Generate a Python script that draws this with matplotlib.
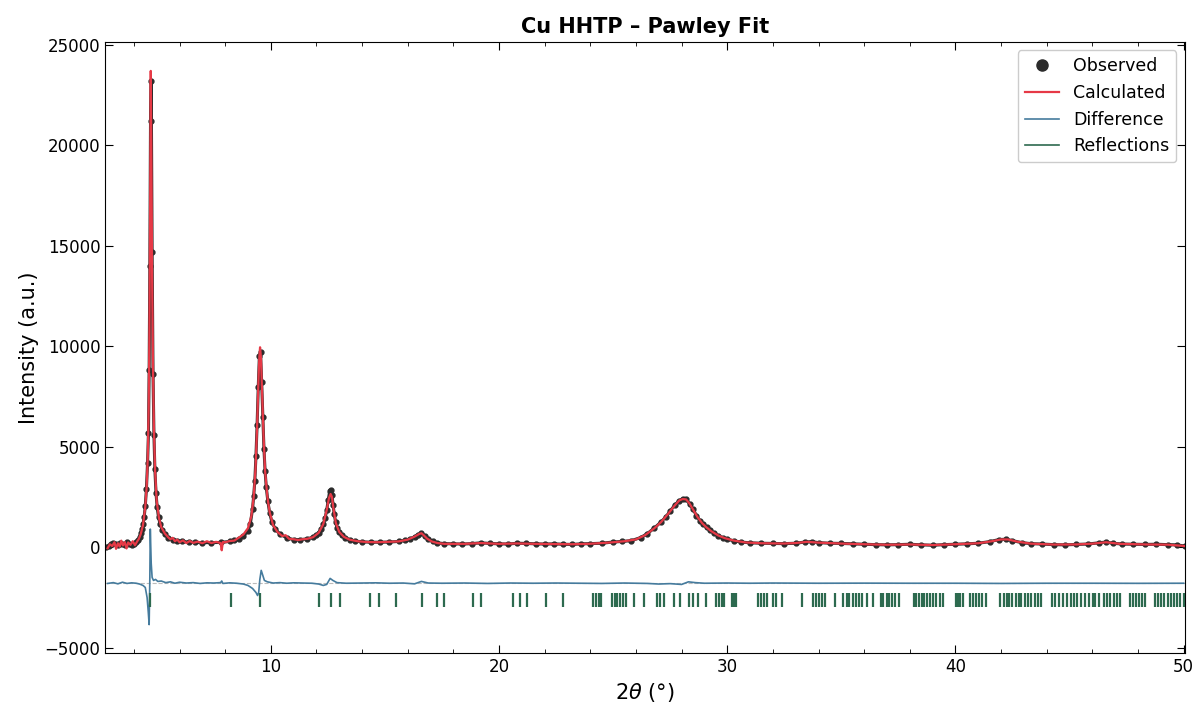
import numpy as np
import matplotlib
matplotlib.use("Agg")
import matplotlib.pyplot as plt
from matplotlib.ticker import MultipleLocator
from matplotlib.lines import Line2D

# observed pattern (2theta, intensity)
obs_x = [2.80, 2.90, 3.00, 3.10, 3.20, 3.30, 3.40, 3.50, 3.60, 3.70, 3.80, 3.90, 4.00, 4.10, 4.20, 4.25,
         4.30, 4.35, 4.40, 4.45, 4.50, 4.55, 4.60, 4.64, 4.67, 4.70, 4.73, 4.76, 4.80, 4.84, 4.88, 4.92, 4.97,
         5.02, 5.08, 5.15, 5.25, 5.35, 5.5, 5.7, 5.9, 6.1, 6.4, 6.7, 7.0, 7.4, 7.8, 8.2, 8.4, 8.6, 8.8,
         9.0, 9.10, 9.20, 9.25, 9.30, 9.35, 9.40, 9.45, 9.50, 9.55, 9.60, 9.65, 9.70, 9.75, 9.80, 9.87,
         9.95, 10.05, 10.2, 10.4, 10.7, 11.0, 11.3, 11.6, 11.85, 12.0, 12.1, 12.2, 12.3,
         12.38, 12.45, 12.52, 12.58, 12.63, 12.68, 12.73, 12.78, 12.84, 12.9, 12.98, 13.1, 13.25, 13.45, 13.7,
         14.0, 14.4, 14.8, 15.2, 15.6, 15.9, 16.1, 16.3, 16.45, 16.6, 16.75, 16.9, 17.1, 17.3, 17.6, 18.0, 18.4,
         18.8, 19.2, 19.6, 20.0, 20.4, 20.8, 21.2, 21.6, 22.0, 22.4, 22.8, 23.2, 23.6, 24.0, 24.5, 25.0, 25.4,
         25.8, 26.2, 26.5, 26.8, 27.1, 27.3, 27.5, 27.7, 27.9, 28.05, 28.2, 28.35, 28.5, 28.65, 28.8, 28.95,
         29.1, 29.25, 29.4, 29.6, 29.8, 30.0, 30.3, 30.6, 31.0, 31.5, 32.0, 32.5, 33.0, 33.4, 33.7, 34.0, 34.5,
         35.0, 35.5, 36.0, 36.5, 37.0, 37.5, 38.0, 38.5, 39.0, 39.5, 40.0, 40.5, 41.0, 41.5, 41.9, 42.2, 42.5,
         42.9, 43.3, 43.8, 44.3, 44.8, 45.3, 45.8, 46.3, 46.6, 46.9, 47.3, 47.8, 48.3, 48.8, 49.3, 49.7, 50.05]
obs_y = [0, 60, 140, 200, 170, 90, 230, 170, 120, 260, 180, 120, 180, 260, 380, 500,
         700, 900, 1150, 1500, 2050, 2900, 4200, 5700, 8800, 14000, 21200, 23200, 14700, 8600, 5600, 3900, 2700,
         2000, 1500, 1150, 850, 650, 480, 380, 320, 290, 260, 240, 230, 230, 240, 290, 340, 420, 560,
         800, 1150, 1900, 2550, 3300, 4550, 6100, 7950, 9500, 9700, 8200, 6500, 4900, 3800, 3000, 2300,
         1700, 1250, 900, 650, 470, 380, 380, 420, 500, 600, 720, 900, 1150,
         1450, 1850, 2350, 2800, 2850, 2600, 2100, 1650, 1250, 980, 780, 600, 480, 380, 310,
         270, 250, 250, 260, 290, 350, 420, 520, 620, 700, 580, 420, 300, 220, 180, 170, 160,
         180, 220, 190, 170, 160, 200, 190, 170, 160, 170, 150, 140, 170, 180, 200, 260, 290,
         330, 480, 680, 950, 1260, 1500, 1800, 2100, 2320, 2420, 2400, 2150, 1900, 1580, 1330, 1150,
         1000, 850, 720, 580, 480, 400, 320, 260, 220, 200, 190, 180, 200, 260, 280, 230, 200,
         190, 170, 150, 130, 120, 130, 150, 120, 100, 130, 150, 170, 200, 280, 380, 400, 330,
         230, 180, 160, 130, 120, 140, 160, 220, 260, 200, 160, 150, 140, 150, 130, 120, 60]

# calculated (Pawley) profile
calc_x = [2.85, 2.95, 3.05, 3.15, 3.22, 3.30, 3.38, 3.45, 3.52, 3.60, 3.68, 3.75, 3.85, 3.95, 4.05, 4.15, 4.22,
          4.30, 4.40, 4.50, 4.56, 4.61, 4.65, 4.68, 4.71, 4.74, 4.77, 4.80, 4.84, 4.88, 4.93, 5.0, 5.1, 5.2,
          5.35, 5.5, 5.6, 5.7, 5.8, 5.9, 6.0, 6.15, 6.3, 6.45, 6.6, 6.8, 7.0, 7.2, 7.4, 7.6, 7.8, 7.85,
          7.9, 8.0, 8.2, 8.4, 8.6, 8.8, 9.0, 9.15, 9.25, 9.33, 9.40, 9.46, 9.50, 9.53, 9.57, 9.62, 9.68, 9.75,
          9.85, 9.95, 10.1, 10.3, 10.5, 10.65, 10.8, 11.0, 11.2, 11.4, 11.6, 11.85, 12.1, 12.3, 12.45, 12.55,
          12.62, 12.68, 12.75, 12.85, 13.0, 13.2, 13.45, 13.8, 14.2, 14.7, 15.2, 15.6, 16.0, 16.3, 16.5, 16.6,
          16.7, 16.85, 17.05, 17.3, 17.6, 18.5, 19.2, 20.0, 20.8, 21.6, 22.4, 23.2, 24.0, 24.8, 25.5, 26.0,
          26.4, 26.8, 27.1, 27.4, 27.7, 27.9, 28.05, 28.2, 28.35, 28.5, 28.7, 28.9, 29.1, 29.3, 29.6, 29.9,
          30.3, 30.8, 31.5, 32.5, 33.0, 33.5, 34.0, 35.0, 36.0, 37.0, 38.0, 39.0, 40.0, 41.0, 41.6, 42.0,
          42.3, 42.7, 43.3, 44.3, 45.3, 46.0, 46.6, 47.2, 48.3, 49.3, 50.05]
calc_y = [-50, 150, 60, 250, -80, 200, 30, 330, 90, 260, -60, 240, 120, 300, 100, 300, 420,
          650, 1100, 2000, 3000, 4500, 7000, 10500, 16500, 23700, 19000, 13500, 8800, 5800, 3800, 2300, 1450, 1000,
          700, 500, 400, 470, 300, 380, 250, 340, 210, 310, 220, 280, 200, 300, 210, 270, 210, -150,
          260, 250, 310, 330, 480, 640, 950, 1550, 2500, 3900, 6000, 8300, 9500, 9950, 9400, 7600, 5600, 3800,
          2500, 1750, 1100, 750, 560, 600, 420, 400, 360, 400, 420, 500, 720, 1150, 1850, 2450,
          2650, 2500, 1900, 1200, 760, 520, 380, 300, 260, 250, 270, 290, 380, 530, 660, 700,
          600, 430, 290, 210, 170, 170, 210, 170, 190, 170, 160, 150, 175, 230, 300, 390,
          600, 940, 1250, 1650, 2080, 2330, 2400, 2380, 2170, 1880, 1500, 1200, 980, 800, 590, 450,
          330, 240, 200, 185, 210, 270, 230, 185, 150, 125, 140, 110, 150, 200, 300, 390,
          390, 280, 180, 135, 140, 180, 250, 170, 140, 130, 60]

# difference curve (offset below the pattern)
diff_x = [2.85, 3.1, 3.3, 3.5, 3.7, 3.9, 4.1, 4.25, 4.4, 4.5, 4.58, 4.63, 4.67, 4.70, 4.72, 4.76, 4.80,
          4.86, 4.95, 5.05, 5.2, 5.4, 5.6, 5.8, 6.0, 6.3, 6.6, 6.9, 7.2, 7.5, 7.8, 7.85, 7.9, 8.2, 8.5, 8.8,
          9.0, 9.2, 9.35, 9.42, 9.47, 9.52, 9.58, 9.65, 9.72, 9.85, 10.1, 10.4, 10.7, 11.0, 11.4, 11.8, 12.1,
          12.3, 12.45, 12.6, 12.72, 12.9, 13.3, 14.0, 14.6, 15.2, 15.8, 16.3, 16.6, 16.9, 17.5, 18.5, 19.5,
          20.5, 21.5, 22.5, 23.5, 24.5, 25.5, 26.5, 27.0, 27.5, 28.0, 28.3, 28.6, 29.0, 30.0, 31.0, 32.0,
          34.0, 36.0, 38.0, 40.0, 42.0, 44.0, 46.0, 48.0, 50.0]
diff_y = [-1800, -1760, -1820, -1740, -1800, -1770, -1790, -1830, -1900, -2000, -2500, -3200, -3850, -1500,
          900, -800, -1500, -1650, -1600, -1700, -1680, -1760, -1720, -1790, -1740, -1780, -1760,
          -1800, -1770, -1780, -1760, -1680, -1800, -1770, -1790, -1830, -1900, -2050, -2250, -2400, -2250,
          -1600, -1150, -1400, -1650, -1720, -1780, -1760, -1790, -1770, -1780, -1790, -1830, -1900, -1850,
          -1550, -1650, -1760, -1790, -1780, -1770, -1790, -1780, -1820, -1700, -1780, -1790, -1780, -1800,
          -1780, -1790, -1780, -1790, -1800, -1780, -1800, -1830, -1810, -1850, -1720, -1760, -1790, -1780,
          -1790, -1780, -1790, -1785, -1790, -1790, -1800, -1790, -1790, -1795, -1790]

# reflection positions (2theta)
refl = [4.71, 8.25, 9.53, 12.12, 12.64, 13.04, 14.35, 14.72, 15.48, 16.64, 17.27, 17.59, 18.88, 19.23,
        20.63, 20.92, 21.22, 22.06, 22.82, 24.10, 24.24, 24.36, 24.45, 24.95, 25.07, 25.16, 25.30, 25.42,
        25.57, 25.92, 26.34, 26.93, 27.05, 27.25, 27.67, 27.95, 28.34, 28.52, 28.70, 29.05, 29.49, 29.62,
        29.76, 29.88, 30.20, 30.29, 30.38, 31.35, 31.49, 31.62, 31.74, 32.01, 32.15, 32.38, 33.26, 33.74,
        33.87, 34.01, 34.15, 34.27, 34.72, 35.07, 35.25, 35.34, 35.51, 35.65, 35.78, 35.92, 36.13, 36.40,
        36.75, 36.84, 36.98, 37.11, 37.23, 37.37, 37.51, 38.17, 38.26, 38.40, 38.52, 38.61, 38.75, 38.88,
        39.00, 39.14, 39.32, 39.46, 40.03, 40.11, 40.20, 40.34, 40.65, 40.77, 40.91, 41.05, 41.18, 41.35,
        41.97, 42.11, 42.24, 42.36, 42.50, 42.65, 42.77, 42.89, 43.04, 43.18, 43.30, 43.48, 43.62, 43.74,
        44.24, 44.36, 44.54, 44.72, 44.89, 45.07, 45.21, 45.34, 45.51, 45.69, 45.87, 46.01, 46.13, 46.31,
        46.49, 46.66, 46.79, 46.93, 47.07, 47.19, 47.64, 47.78, 47.90, 48.04, 48.17, 48.29, 48.73, 48.88,
        49.02, 49.14, 49.32, 49.44, 49.58, 49.73, 49.85, 50.03]

diff_offset = -1800
c_obs = "#2b2b2b"
c_calc = "#e63946"
c_diff = "#457b9d"
c_refl = "#2d6a4f"

fig = plt.figure(figsize=(11.97, 7.08), dpi=100)
ax = fig.add_axes([0.088, 0.078, 0.902, 0.863])

ax.plot(obs_x, obs_y, color=c_obs, lw=2.2, zorder=2)
ax.plot(obs_x, obs_y, "o", color=c_obs, ms=3.5, zorder=2)
ax.plot(calc_x, calc_y, color=c_calc, lw=1.6, zorder=3)
ax.axhline(diff_offset, color="#bbbbbb", lw=0.8, ls="--", zorder=1)
ax.plot(diff_x, diff_y, color=c_diff, lw=1.2, zorder=3)
ax.vlines(refl, -2950, -2300, color=c_refl, lw=1.6, zorder=3)

ax.set_xlim(2.75, 50.06)
ax.set_ylim(-5250, 25150)
ax.xaxis.set_major_locator(MultipleLocator(10))
ax.xaxis.set_minor_locator(MultipleLocator(2))
ax.yaxis.set_major_locator(MultipleLocator(5000))
ax.tick_params(which="both", direction="in", top=True, right=True, labelsize=12)
ax.tick_params(which="major", length=6)
ax.tick_params(which="minor", length=3)

ax.set_xlabel(r"2$\theta$ (°)", fontsize=15)
ax.set_ylabel("Intensity (a.u.)", fontsize=15)
ax.set_title("Cu HHTP – Pawley Fit", fontsize=15, fontweight="bold")

handles = [Line2D([], [], marker="o", ls="none", color=c_obs, ms=8, label="Observed"),
           Line2D([], [], color=c_calc, lw=1.6, label="Calculated"),
           Line2D([], [], color=c_diff, lw=1.2, label="Difference"),
           Line2D([], [], color=c_refl, lw=1.2, label="Reflections")]
ax.legend(handles=handles, loc="upper right", fontsize=12.5, framealpha=1, edgecolor="#cccccc")

fig.savefig("out.png", dpi=100)
